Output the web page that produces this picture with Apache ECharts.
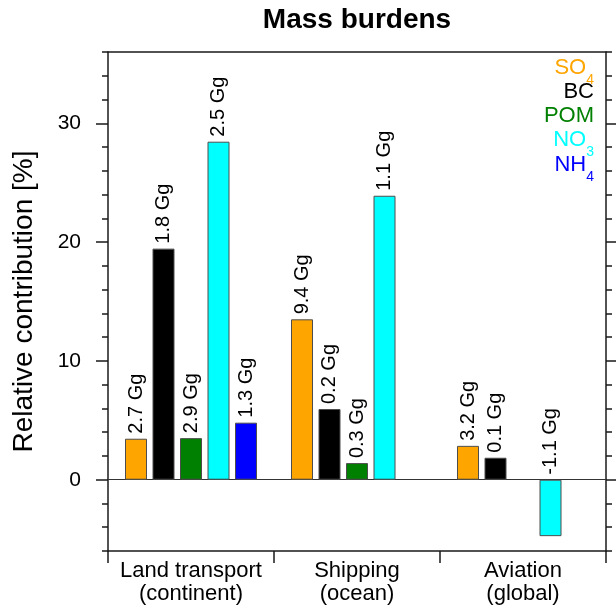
<!DOCTYPE html>
<html>
<head>
<meta charset="utf-8">
<script src="https://cdn.jsdelivr.net/npm/echarts@6/dist/echarts.min.js"></script>
<style>
  html, body { margin: 0; padding: 0; background: #fff; }
  #chart { width: 616px; height: 605px; }
</style>
</head>
<body>
<div id="chart"></div>
<script>
// sectors on the x axis
const categories = ['Land transport\n(continent)', 'Shipping\n(ocean)', 'Aviation\n(global)'];
const species = ['SO4', 'BC', 'POM', 'NO3', 'NH4'];
const speciesColors = ['#FFA500', '#000000', '#008000', '#00FFFF', '#0000FF'];

// relative contribution [%]
const so4Values = [3.45, 13.5, 2.85];
const bcValues = [19.45, 5.95, 1.85];
const pomValues = [3.5, 1.4, null];
const no3Values = [28.45, 23.9, -4.75];
const nh4Values = [4.8, null, null];

// burden labels on top of the bars
const so4Labels = ['2.7 Gg', '9.4 Gg', '3.2 Gg'];
const bcLabels = ['1.8 Gg', '0.2 Gg', '0.1 Gg'];
const pomLabels = ['2.9 Gg', '0.3 Gg', ''];
const no3Labels = ['2.5 Gg', '1.1 Gg', '-1.1 Gg'];
const nh4Labels = ['1.3 Gg', '', ''];

// y axis
const yMin = -6;
const yMax = 36;
const minorStep = 2;
const majorTicks = [0, 10, 20, 30];

const allValues = [so4Values, bcValues, pomValues, no3Values, nh4Values];
const allLabels = [so4Labels, bcLabels, pomLabels, no3Labels, nh4Labels];

const font = "'Liberation Sans', Arial, sans-serif";
const frameColor = '#1a1a1a';

let myChart = echarts.init(document.getElementById('chart'));

// subscript digits via rich text
function chemName(name) {
    let m = name.match(/^(\D+)(\d*)$/);
    return m[2] ? '{m|' + m[1] + '}{s|' + m[2] + '}' : '{m|' + name + '}';
}

const legendTops = [57, 81, 105, 129, 154];
let legends = species.map((name, i) => ({
    data: [name],
    right: 17,
    top: legendTops[i],
    padding: 0,
    icon: 'none',
    itemWidth: 0,
    align: 'right',
    selectedMode: false,
    formatter: chemName,
    textStyle: {
        color: speciesColors[i],
        fontFamily: font,
        rich: {
            m: { fontSize: 22, lineHeight: 26, verticalAlign: 'top', color: speciesColors[i], fontFamily: font },
            s: { fontSize: 14, lineHeight: 30, verticalAlign: 'bottom', color: speciesColors[i], fontFamily: font }
        }
    }
}));

let yBase = {
    type: 'value',
    min: yMin,
    max: yMax,
    interval: minorStep,
    splitLine: { show: false }
};

let series = species.map((name, i) => ({
    name: name,
    type: 'bar',
    xAxisIndex: 0,
    yAxisIndex: 0,
    barWidth: 22,
    barGap: '25%',
    data: allValues[i],
    itemStyle: { color: speciesColors[i], borderColor: '#4d4d4d', borderWidth: 1 },
    label: {
        show: true,
        position: 'top',
        rotate: 90,
        align: 'left',
        verticalAlign: 'middle',
        distance: 5,
        fontSize: 20,
        fontFamily: font,
        color: '#000',
        formatter: function (params) {
            return allLabels[i][params.dataIndex];
        }
    }
}));

var option = {
    backgroundColor: '#fff',
    animation: false,
    textStyle: { fontFamily: font },
    title: {
        text: 'Mass burdens',
        left: 357,
        textAlign: 'center',
        top: 6,
        padding: 0,
        textStyle: { fontSize: 28, fontWeight: 'bold', color: '#000', fontFamily: font }
    },
    legend: legends,
    grid: { left: 108, right: 10, top: 52, bottom: 54 },
    xAxis: [
        {
            type: 'category',
            position: 'bottom',
            data: categories,
            axisLine: { onZero: false, lineStyle: { color: frameColor, width: 1.5 } },
            axisTick: { show: true, length: 12, lineStyle: { color: frameColor, width: 1.5 } },
            axisLabel: { fontSize: 22, lineHeight: 23, color: '#000', margin: 8, fontFamily: font, interval: 0 }
        },
        {
            type: 'category',
            position: 'top',
            data: categories,
            axisLine: { onZero: false, lineStyle: { color: frameColor, width: 1.5 } },
            axisTick: { show: false },
            axisLabel: { show: false }
        },
        {
            // zero line
            type: 'category',
            position: 'bottom',
            data: categories,
            axisLine: { onZero: true, onZeroAxisIndex: 0, lineStyle: { color: '#333', width: 1 } },
            axisTick: { show: false },
            axisLabel: { show: false }
        }
    ],
    yAxis: [
        Object.assign({}, yBase, {
            position: 'left',
            name: 'Relative contribution [%]',
            nameLocation: 'middle',
            nameRotate: 90,
            nameGap: 70,
            nameTextStyle: { fontSize: 28, color: '#000', fontFamily: font },
            axisLine: { show: true, lineStyle: { color: frameColor, width: 1.5 } },
            axisTick: { show: true, length: 6, lineStyle: { color: frameColor, width: 1.5 } },
            axisLabel: {
                fontSize: 21, color: '#000', margin: 27, fontFamily: font,
                formatter: v => (majorTicks.indexOf(v) >= 0 ? String(v) : '')
            }
        }),
        Object.assign({}, yBase, {
            position: 'left',
            axisLine: { show: false },
            axisTick: { show: true, length: 12, customValues: majorTicks, lineStyle: { color: frameColor, width: 1.5 } },
            axisLabel: { show: false }
        }),
        Object.assign({}, yBase, {
            position: 'right',
            axisLine: { show: true, lineStyle: { color: frameColor, width: 1.5 } },
            axisTick: { show: true, length: 6, lineStyle: { color: frameColor, width: 1.5 } },
            axisLabel: { show: false }
        }),
        Object.assign({}, yBase, {
            position: 'right',
            axisLine: { show: false },
            axisTick: { show: true, length: 12, customValues: majorTicks, lineStyle: { color: frameColor, width: 1.5 } },
            axisLabel: { show: false }
        })
    ],
    series: series
};

myChart.setOption(option);
window.addEventListener('resize', function () {
    myChart.resize();
});
</script>
</body>
</html>
